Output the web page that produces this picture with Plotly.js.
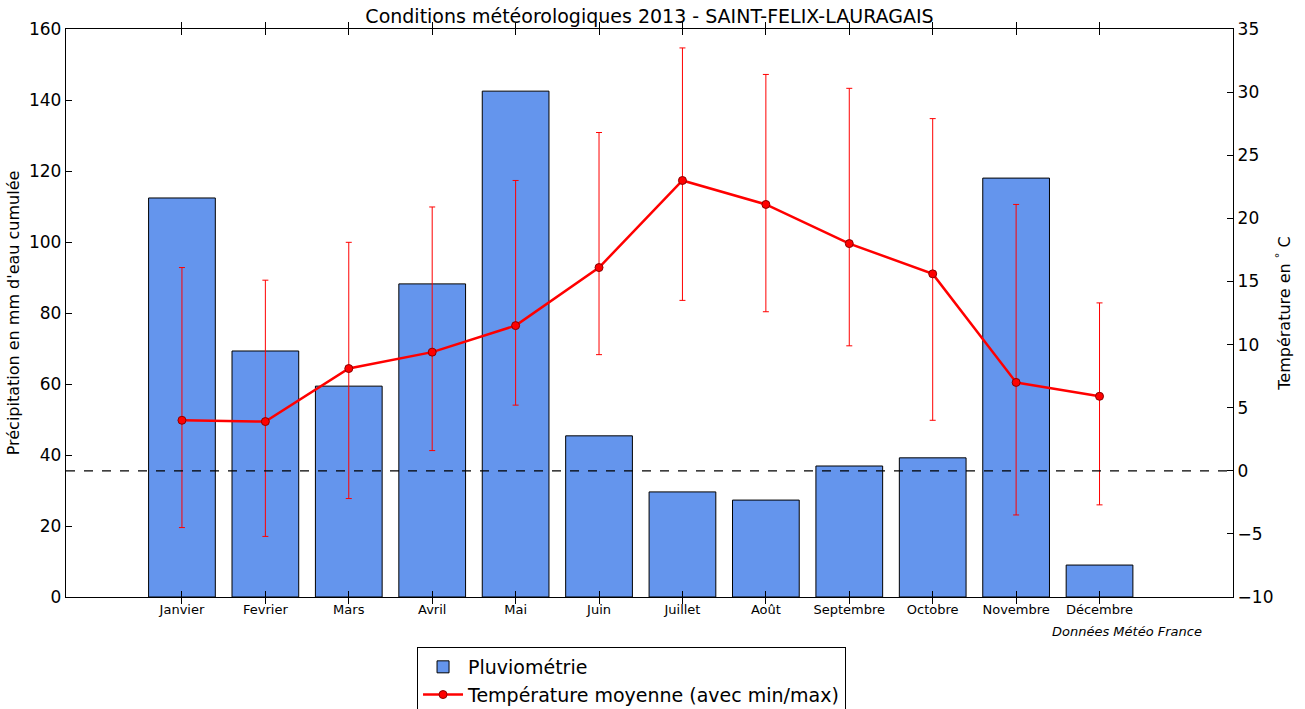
<!DOCTYPE html>
<html>
<head>
<meta charset="utf-8">
<script src="https://cdn.plot.ly/plotly-3.0.1.min.js"></script>
<style>html,body{margin:0;padding:0;background:#fff;}#chart{width:1305px;height:709px;}</style>
</head>
<body>
<div id="chart"></div>
<script>
const months = ["Janvier","Fevrier","Mars","Avril","Mai","Juin","Juillet","Août","Septembre","Octobre","Novembre","Décembre"];
const monthIndex = [0,1,2,3,4,5,6,7,8,9,10,11];
const pluvio = [112.4, 69.3, 59.4, 88.2, 142.5, 45.4, 29.6, 27.3, 36.9, 39.2, 118.0, 9.0];
const tempMean = [4.0, 3.9, 8.1, 9.4, 11.5, 16.1, 23.0, 21.1, 18.0, 15.6, 7.0, 5.9];
const tempMax = [16.1, 15.1, 18.1, 20.9, 23.0, 26.8, 33.5, 31.4, 30.3, 27.9, 21.1, 13.3];
const tempMin = [-4.5, -5.2, -2.2, 1.6, 5.2, 9.2, 13.5, 12.6, 9.9, 4.0, -3.5, -2.7];

const errPlus = tempMax.map((v,i)=>v - tempMean[i]);
const errMinus = tempMean.map((v,i)=>v - tempMin[i]);

const font = "DejaVu Sans, sans-serif";

const traces = [
  {
    type: "bar", x: monthIndex, y: pluvio, name: "Pluviométrie", width: 0.8,
    marker: {color: "#6495ED", line: {color: "#000", width: 1}},
    yaxis: "y", hoverinfo: "y"
  },
  {
    type: "scatter", mode: "lines+markers", x: monthIndex, y: tempMean,
    name: "Température moyenne (avec min/max)", yaxis: "y2",
    line: {color: "#ff0000", width: 2.5},
    marker: {color: "#ff0000", size: 8, line: {color: "#8b0000", width: 1}},
    error_y: {type: "data", symmetric: false, array: errPlus, arrayminus: errMinus,
              color: "#ff0000", thickness: 1, width: 3}
  }
];

const layout = {
  width: 1305, height: 709,
  margin: {l: 66, r: 72, t: 29, b: 112, autoexpand: false},
  paper_bgcolor: "#fff", plot_bgcolor: "#fff",
  font: {family: font, color: "#000"},
  title: {text: "Conditions météorologiques 2013 - SAINT-FELIX-LAURAGAIS", font: {size: 19, family: font}, x: 0.4977, xanchor: "center", y: 0.977, yanchor: "middle"},
  showlegend: true,
  legend: {x: 0.3008, xanchor: "left", y: -0.088, yanchor: "top", bordercolor: "#000", borderwidth: 1,
           font: {size: 19, family: font}, bgcolor: "#fff", tracegroupgap: 0, itemwidth: 40},
  bargap: 0.2,
  xaxis: {
    range: [-1.39, 12.6], tickvals: monthIndex, ticktext: months,
    ticks: "inside", ticklen: 6, tickcolor: "#000", mirror: "allticks",
    showline: true, linecolor: "#000", linewidth: 1.2, showgrid: false, zeroline: false,
    tickfont: {size: 13, family: font}, automargin: false
  },
  yaxis: {
    range: [0, 160], dtick: 20, ticks: "inside", ticklen: 6, tickcolor: "#000",
    showline: true, linecolor: "#000", linewidth: 1.2, showgrid: false, zeroline: false,
    tickfont: {size: 17, family: font}, automargin: false,
    title: {text: "Précipitation en mm d'eau cumulée", font: {size: 16, family: font}, standoff: 5}
  },
  yaxis2: {
    range: [-10, 35], dtick: 5, overlaying: "y", side: "right",
    ticks: "inside", ticklen: 6, tickcolor: "#000",
    showline: true, linecolor: "#000", linewidth: 1.2, showgrid: false, zeroline: false,
    tickfont: {size: 17, family: font}, automargin: false,
    tickformat: "d",
    title: {text: "Température en <sup>°</sup> C", font: {size: 16, family: font}, standoff: 6}
  },
  shapes: [{
    type: "line", xref: "paper", x0: 0, x1: 1, yref: "y2", y0: 0, y1: 0,
    line: {color: "#000", width: 1.2, dash: "dash"}
  }],
  annotations: [{
    text: "<i>Données Météo France</i>", xref: "paper", yref: "paper",
    x: 0.975, y: -0.06, xanchor: "right", yanchor: "middle", showarrow: false,
    font: {size: 13, family: font}
  }]
};

Plotly.newPlot("chart", traces, layout, {displayModeBar: false, staticPlot: true});
</script>
</body>
</html>
